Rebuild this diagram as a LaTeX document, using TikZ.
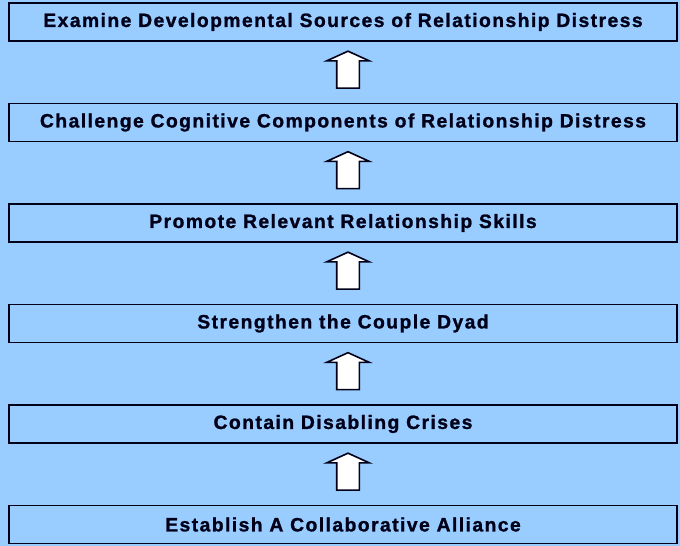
\documentclass[tikz,border=0pt]{standalone}
\usepackage{fontspec}
\setmainfont{Liberation Sans}
\usepackage{xcolor}
\definecolor{skyblue}{RGB}{153,204,255}
\definecolor{inkblue}{RGB}{0,0,24}
\usetikzlibrary{calc}
\usetikzlibrary{shapes.arrows}
\newfontfamily\stagefont[LetterSpace=7.5, BoldFeatures={FakeBold=1.2}]{Liberation Sans}
\tikzset{stage/.style={draw=inkblue, line width=1.8pt, fill=skyblue, minimum width=668pt, minimum height=38pt, inner sep=0pt, font=\stagefont\fontsize{19.3}{22}\selectfont\bfseries, text=inkblue},
upstep/.style={single arrow, draw=inkblue, line width=1.6pt, fill=white, rotate=90, minimum height=37pt, inner sep=10.5pt, single arrow head extend=10pt, single arrow tip angle=131, single arrow head indent=0pt}}

\begin{document}
\begin{tikzpicture}[x=1pt,y=1pt]
\fill[skyblue] (0,0) rectangle (680,546);
\useasboundingbox (0,0) rectangle (680,546);
\node [stage] (s6) at (343,524) {Examine Developmental Sources of Relationship Distress};
\node [stage] (s5) at (343,423.5) {Challenge Cognitive Components of Relationship Distress};
\node [stage] (s4) at (343,323) {Promote Relevant Relationship Skills};
\node [stage] (s3) at (343,222.5) {Strengthen the Couple Dyad};
\node [stage] (s2) at (343,122) {Contain Disabling Crises};
\node [stage] (s1) at (343,21.5) {Establish A Collaborative Alliance};
% block arrows between the stages
\node [upstep] (u1) at ($(s1.north)!0.5!(s2.south)+(5,0)$) {};
\node [upstep] (u2) at ($(s2.north)!0.5!(s3.south)+(5,0)$) {};
\node [upstep] (u3) at ($(s3.north)!0.5!(s4.south)+(5,0)$) {};
\node [upstep] (u4) at ($(s4.north)!0.5!(s5.south)+(5,0)$) {};
\node [upstep] (u5) at ($(s5.north)!0.5!(s6.south)+(5,0)$) {};
\end{tikzpicture}
\end{document}
